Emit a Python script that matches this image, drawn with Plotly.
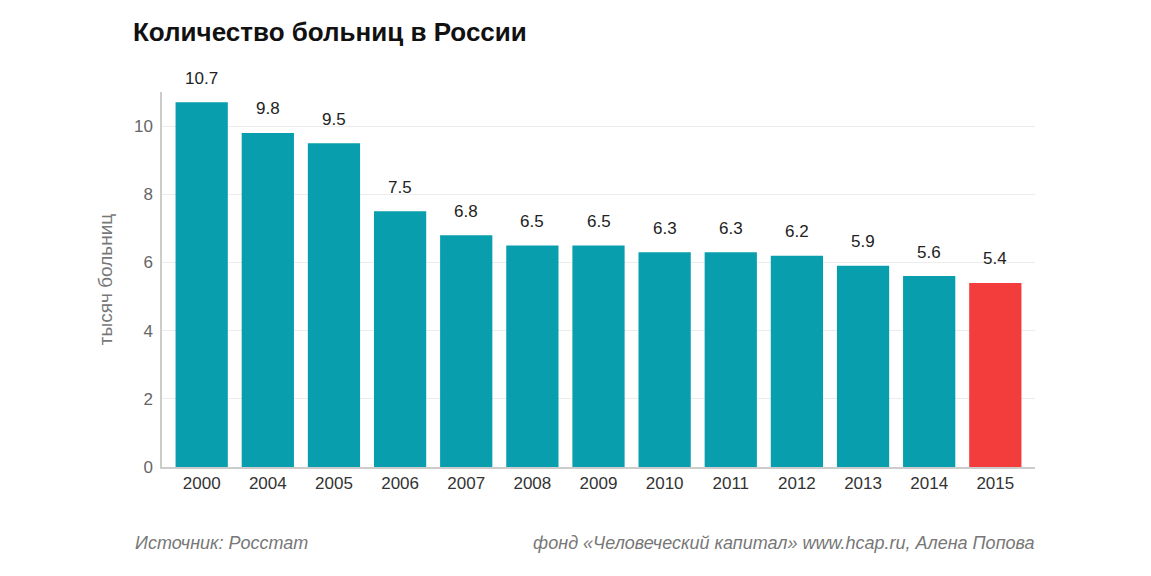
import plotly.graph_objects as go

# data
years = ["2000", "2004", "2005", "2006", "2007", "2008", "2009",
         "2010", "2011", "2012", "2013", "2014", "2015"]
hospitals = [10.7, 9.8, 9.5, 7.5, 6.8, 6.5, 6.5, 6.3, 6.3, 6.2, 5.9, 5.6, 5.4]
label_text = ["10.7", "9.8", "9.5", "7.5", "6.8", "6.5", "6.5",
              "6.3", "6.3", "6.2", "5.9", "5.6", "5.4"]
y_ticks = [0, 2, 4, 6, 8, 10]

teal = "#089ead"
red = "#f33d3d"
bar_colors = [teal] * (len(years) - 1) + [red]

# page body has an 8px margin, so the figure is a bit smaller and shifted
W, H = 1143, 568
OFF = 8

fig = go.Figure()

fig.add_trace(go.Bar(
    x=years,
    y=hospitals,
    marker=dict(color=bar_colors, line=dict(width=0)),
))

# value labels above bars (category axis -> annotation x is the category index)
for i, (val, txt) in enumerate(zip(hospitals, label_text)):
    fig.add_annotation(
        x=i, y=val, text=txt,
        xref="x", yref="y",
        yanchor="middle", yshift=24,
        showarrow=False,
        font=dict(family="Arial, Liberation Sans", size=17, color="#222222"),
    )

plot_l, plot_r, plot_t, plot_b = 162 - OFF, 1035 - OFF, 92 - OFF, 467 - OFF
plot_w = plot_r - plot_l
plot_h = plot_b - plot_t

fig.update_layout(
    width=W,
    height=H,
    margin=dict(l=plot_l, r=W - plot_r, t=plot_t, b=H - plot_b),
    paper_bgcolor="white",
    plot_bgcolor="white",
    bargap=0.21,
    showlegend=False,
    font=dict(family="Arial, Liberation Sans", color="#666666"),
    title=dict(
        text="<b>Количество больниц в России</b>",
        x=(133 - OFF) / W, xanchor="left",
        y=1 - (32 - OFF) / H, yanchor="middle",
        font=dict(size=26, color="#111111"),
    ),
)

fig.update_xaxes(
    type="category",
    range=[-0.6, 12.6],
    showgrid=False,
    showline=True, linecolor="#cccccc", linewidth=1.5,
    ticks="",
    tickfont=dict(size=17, color="#333333"),
)

fig.update_yaxes(
    range=[0, 11],
    tickvals=y_ticks,
    showgrid=True, gridcolor="#ececec", gridwidth=1,
    zeroline=False,
    showline=True, linecolor="#cccccc", linewidth=1.5,
    tickfont=dict(size=17, color="#666666"),
    ticks="outside", ticklen=4, tickcolor="white",
    title=dict(text="тысяч больниц", font=dict(size=19, color="#777777"), standoff=16),
)

# footer notes
foot_y = -(543 - 467) / plot_h
fig.add_annotation(
    text="<i>Источник: Росстат</i>",
    xref="paper", yref="paper",
    x=(133 - 162) / plot_w, y=foot_y,
    xanchor="left", yanchor="middle",
    showarrow=False,
    font=dict(size=18, color="#777777"),
)
fig.add_annotation(
    text="<i>фонд «Человеческий капитал» www.hcap.ru, Алена Попова</i>",
    xref="paper", yref="paper",
    x=(1037 - 162) / plot_w, y=foot_y,
    xanchor="right", yanchor="middle",
    showarrow=False,
    font=dict(size=18, color="#777777"),
)

fig.write_html("out.html")
